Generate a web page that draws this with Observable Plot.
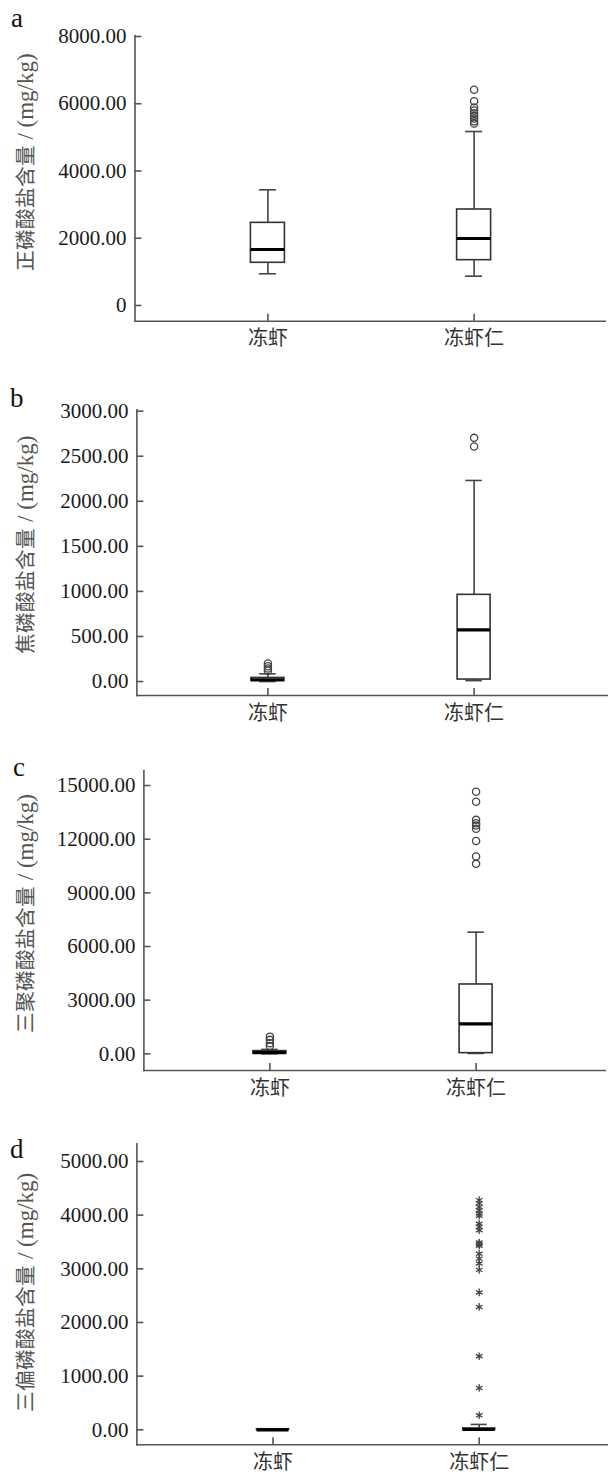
<!DOCTYPE html>
<html><head><meta charset="utf-8">
<script src="https://cdn.jsdelivr.net/npm/d3@7"></script>
<script src="https://cdn.jsdelivr.net/npm/@observablehq/plot@0.6"></script>
<style>
@font-face{font-family:"CJKSmall";src:local("Noto Sans CJK SC"),local("Noto Sans CJK SC Regular"),local("NotoSansCJKsc-Regular");size-adjust:90%;}
body{margin:0;background:#fff;width:608px;}
.panel{position:relative;width:608px;}
.letter{position:absolute;font-family:'Liberation Serif',serif;font-size:27px;color:#111;line-height:1;}
svg{display:block}
</style></head><body><div id="root"></div>
<script>
const categories = ["冻虾", "冻虾仁"];

// a: 正磷酸盐
const aTitle = "正磷酸盐含量 / (mg/kg)";
const aTicks = [0, 2000, 4000, 6000, 8000];
const aTickLabels = ["0", "2000.00", "4000.00", "6000.00", "8000.00"];
const aLo = [943, 872], aQ1 = [1270, 1348], aMed = [1665, 1992], aQ3 = [2458, 2855], aHi = [3440, 5174];
const aOut0 = [], aOut1 = [6415, 6075, 5890, 5800, 5720, 5640, 5560, 5480, 5410];

// b: 焦磷酸盐
const bTitle = "焦磷酸盐含量 / (mg/kg)";
const bTicks = [0, 500, 1000, 1500, 2000, 2500, 3000];
const bTickLabels = ["0.00", "500.00", "1000.00", "1500.00", "2000.00", "2500.00", "3000.00"];
const bLo = [0, 10], bQ1 = [5, 22], bMed = [20, 574], bQ3 = [40, 962], bHi = [85, 2231];
const bOut0 = [120, 145, 170, 200], bOut1 = [2608, 2704];

// c: 三聚磷酸盐
const cTitle = "三聚磷酸盐含量 / (mg/kg)";
const cTicks = [0, 3000, 6000, 9000, 12000, 15000];
const cTickLabels = ["0.00", "3000.00", "6000.00", "9000.00", "12000.00", "15000.00"];
const cLo = [0, 20], cQ1 = [10, 37], cMed = [60, 1677], cQ3 = [150, 3876], cHi = [245, 6801];
const cOut0 = [430, 590, 780, 960], cOut1 = [14650, 14090, 13080, 12890, 12760, 12580, 11900, 11030, 10620];

// d: 三偏磷酸盐
const dTitle = "三偏磷酸盐含量 / (mg/kg)";
const dTicks = [0, 1000, 2000, 3000, 4000, 5000];
const dTickLabels = ["0.00", "1000.00", "2000.00", "3000.00", "4000.00", "5000.00"];
const dLo = [0, 0], dQ1 = [0, 0], dMed = [0, 5], dQ3 = [10, 25], dHi = [10, 100];
const dOut0 = [], dOut1 = [270, 780, 1370, 2290, 2560, 2980, 3100, 3190, 3280, 3430, 3460, 3490, 3720, 3780, 3840, 3990, 4030, 4090, 4150, 4220, 4280];

const panels = [
  {letter: "a", title: aTitle, ticks: aTicks, labels: aTickLabels, lo: aLo, q1: aQ1, med: aMed, q3: aQ3, hi: aHi, out: [aOut0, aOut1], symbol: "circle",
   layout: {height: 365, L: 134.5, R: 604.7, top: 35, bottom: 320.7, c0: 267.4, c1: 473.6, w: 34, ymin: -467, ymax: 8030, titleDy: -16, lx: 11, ly: 5}},
  {letter: "b", title: bTitle, ticks: bTicks, labels: bTickLabels, lo: bLo, q1: bQ1, med: bMed, q3: bQ3, hi: bHi, out: [bOut0, bOut1], symbol: "circle",
   layout: {height: 365, L: 136.4, R: 608, top: 44.3, bottom: 330, c0: 267.4, c1: 473.6, w: 33, ymin: -155, ymax: 3015, titleDy: -8, lx: 10, ly: 20}},
  {letter: "c", title: cTitle, ticks: cTicks, labels: cTickLabels, lo: cLo, q1: cQ1, med: cMed, q3: cQ3, hi: cHi, out: [cOut0, cOut1], symbol: "circle",
   layout: {height: 370, L: 143.4, R: 604.7, top: 40, bottom: 340, c0: 269.4, c1: 475.6, w: 33, ymin: -934, ymax: 15840, titleDy: -7, lx: 13, ly: 24}},
  {letter: "d", title: dTitle, ticks: dTicks, labels: dTickLabels, lo: dLo, q1: dQ1, med: dMed, q3: dQ3, hi: dHi, out: [dOut0, dOut1], symbol: "asterisk",
   layout: {height: 374, L: 136.4, R: 608, top: 43.3, bottom: 344.3, c0: 272.5, c1: 478.7, w: 32, ymin: -280, ymax: 5330, titleDy: -2, lx: 10, ly: 36}}
];

const FONT = "'Liberation Serif','Noto Sans CJK SC',serif";
const TITLE_FONT = "'Liberation Serif',CJKSmall,'Noto Sans CJK SC',serif";
const root = document.getElementById("root");

for (const p of panels) {
  const g = p.layout;
  const stats = categories.map((cat, i) => ({cat, lo: p.lo[i], q1: p.q1[i], med: p.med[i], q3: p.q3[i], hi: p.hi[i]}));
  const outliers = categories.flatMap((cat, i) => p.out[i].map(v => ({cat, v})));
  const labelMap = new Map(p.ticks.map((t, i) => [t, p.labels[i]]));
  // band scale options from layout geometry
  const n = categories.length;
  const step = g.c1 - g.c0;
  const pi = 1 - g.w / step;
  const span = g.R - g.L;
  const po = (span / step - n + pi) / 2;
  const align = (g.c0 - g.w / 2 - g.L) / (span - step * (n - pi));
  const capInset = g.w / 4;

  const chart = Plot.plot({
    width: 608,
    height: g.height,
    marginLeft: g.L,
    marginRight: 608 - g.R,
    marginTop: g.top,
    marginBottom: g.height - g.bottom,
    style: {fontFamily: FONT, fontSize: "20px", color: "#222", background: "white", overflow: "visible"},
    x: {type: "band", domain: categories, paddingInner: pi, paddingOuter: po, align, round: false, label: null},
    y: {domain: [g.ymin, g.ymax], label: null},
    marks: [
      Plot.frame({anchor: "left", stroke: "#555", strokeWidth: 1.6}),
      Plot.frame({anchor: "bottom", stroke: "#555", strokeWidth: 1.6}),
      Plot.axisY(p.ticks, {tickSize: -7, tickPadding: 15.5, tickFormat: d => labelMap.get(d), fontSize: 21, stroke: "#555", fill: "#1a1a1a", strokeWidth: 1.6, label: null}),
      Plot.axisX({tickSize: -7, tickPadding: 17, fontSize: 20, stroke: "#555", fill: "#333", strokeWidth: 1.6, label: null, fontFamily: "'Noto Sans CJK SC',sans-serif"}),
      Plot.text([p.title], {text: d => d, frameAnchor: "left", rotate: -90, dx: -(g.L - 25), dy: g.titleDy, fontSize: 23, fontFamily: TITLE_FONT, fill: "#555", textAnchor: "middle"}),
      Plot.ruleX(stats, {x: "cat", y1: "lo", y2: "q1", stroke: "#444", strokeWidth: 1.6}),
      Plot.ruleX(stats, {x: "cat", y1: "q3", y2: "hi", stroke: "#444", strokeWidth: 1.6}),
      Plot.tickY(stats, {x: "cat", y: "lo", stroke: "#444", strokeWidth: 1.6, insetLeft: capInset, insetRight: capInset}),
      Plot.tickY(stats, {x: "cat", y: "hi", stroke: "#444", strokeWidth: 1.6, insetLeft: capInset, insetRight: capInset}),
      Plot.barY(stats, {x: "cat", y1: "q1", y2: "q3", fill: "white", stroke: "#333", strokeWidth: 1.6}),
      Plot.tickY(stats, {x: "cat", y: "med", stroke: "#000", strokeWidth: 3.2}),
      Plot.dot(outliers, {x: "cat", y: "v", symbol: p.symbol, r: 3.6, stroke: "#444", strokeWidth: 1.3, fill: "none"})
    ]
  });

  const div = document.createElement("div");
  div.className = "panel";
  div.style.height = g.height + "px";
  div.appendChild(chart);
  const letter = document.createElement("div");
  letter.className = "letter";
  letter.textContent = p.letter;
  letter.style.left = g.lx + "px";
  letter.style.top = g.ly + "px";
  div.appendChild(letter);
  root.appendChild(div);
}
</script></body></html>
